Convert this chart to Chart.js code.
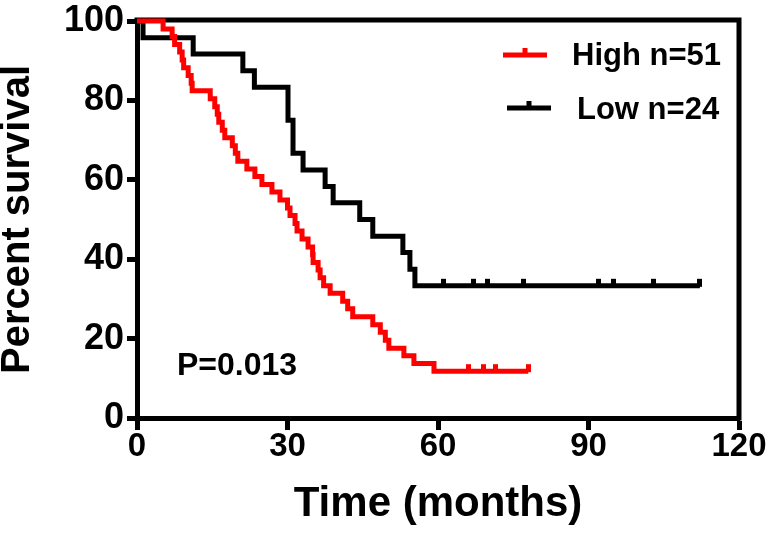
<!DOCTYPE html>
<html>
<head>
<meta charset="utf-8">
<script src="https://cdn.jsdelivr.net/npm/chart.js@4.4.0/dist/chart.umd.min.js"></script>
<style>
  body { margin: 0; background: #fff; }
  #wrap { width: 773px; height: 546px; }
</style>
</head>
<body>
<div id="wrap"><canvas id="kmChart" width="773" height="546"></canvas></div>
<script>
// survival data (months, percent)
const highTimes = [0, 5.2, 7.0, 7.5, 8.5, 9.0, 9.3, 10.2, 10.8, 11.0, 14.6, 15.5, 16.0, 16.3, 17.0, 17.5, 19.0, 19.6, 20.1,
  21.9, 23.5, 24.9, 26.9, 28.5, 30.0, 30.5, 31.5, 31.9, 32.9, 34.1, 35.0, 35.1, 36.1, 36.5, 37.2,
  38.5, 41.0, 42.0, 43.0, 47.0, 48.5, 49.5, 50.2, 53.2, 55.2, 59.2, 78.0];
const highSurv = [100, 98.0, 96.1, 94.1, 92.2, 90.2, 88.2, 86.3, 84.3, 82.4, 80.4, 78.4, 76.5, 74.5, 72.5, 70.6, 68.6, 66.7, 64.7,
  62.7, 60.8, 58.8, 56.9, 54.9, 52.9, 51.0, 49.0, 47.1, 45.1, 43.1, 41.2, 39.2, 37.3, 35.3, 33.3,
  31.4, 29.4, 27.5, 25.5, 23.5, 21.6, 19.6, 17.6, 15.7, 13.7, 11.8, 11.8];
const highCensorTimes = [66, 69, 71.5, 78];
const highCensorSurv = [11.8, 11.8, 11.8, 11.8];

const lowTimes = [0, 1.2, 11.2, 21.1, 23.4, 30.1, 31.1, 33.1, 37.5, 39.1, 44.4, 47.0, 53.0, 54.4, 55.4, 112.2];
const lowSurv = [100, 95.8, 91.7, 87.5, 83.3, 75.0, 66.7, 62.5, 58.3, 54.2, 50.0, 45.8, 41.7, 37.5, 33.3, 33.3];
const lowCensorTimes = [61, 67, 69.8, 77, 92, 95, 103, 112.2];
const lowCensorSurv = [33.3, 33.3, 33.3, 33.3, 33.3, 33.3, 33.3, 33.3];

const xTicks = [0, 30, 60, 90, 120];
const yTicks = [0, 20, 40, 60, 80, 100];
const seriesNames = ['High n=51', 'Low n=24'];
const pValueText = 'P=0.013';

const RED = '#ff0000';
const BLACK = '#000000';
const FONT = '"Liberation Sans", Arial, sans-serif';

function toPoints(xs, ys) {
  return xs.map((x, i) => ({ x: x, y: ys[i] }));
}

// censor mark: small tick sticking up from the curve only
function censorMark(color) {
  const c = document.createElement('canvas');
  c.width = 5;
  c.height = 20;
  const g = c.getContext('2d');
  g.fillStyle = color;
  g.fillRect(0, 3, 5, 8);
  return c;
}

// top + right frame lines, drawn under the curves
const framePlugin = {
  id: 'frame',
  beforeDatasetsDraw(chart) {
    const a = chart.chartArea, ctx = chart.ctx;
    ctx.save();
    ctx.strokeStyle = BLACK;
    ctx.lineWidth = 5;
    ctx.lineCap = 'square';
    ctx.beginPath();
    ctx.moveTo(a.left, a.top - 1);
    ctx.lineTo(a.right, a.top - 1);
    ctx.lineTo(a.right, a.bottom);
    ctx.stroke();
    ctx.restore();
  }
};

// legend in the top-right corner and the p value
const labelsPlugin = {
  id: 'labels',
  afterDatasetsDraw(chart) {
    const ctx = chart.ctx, a = chart.chartArea;
    ctx.save();
    ctx.font = 'bold 31px ' + FONT;
    ctx.textBaseline = 'alphabetic';
    ctx.textAlign = 'left';
    const rows = [
      { color: RED, name: seriesNames[0], lineY: 55, x0: 503, textX: 572, base: 65 },
      { color: BLACK, name: seriesNames[1], lineY: 108, x0: 507, textX: 577, base: 119 }
    ];
    rows.forEach(r => {
      ctx.strokeStyle = r.color;
      ctx.lineWidth = 5;
      ctx.lineCap = 'butt';
      ctx.beginPath();
      ctx.moveTo(r.x0, r.lineY);
      ctx.lineTo(r.x0 + 44, r.lineY);
      ctx.moveTo(r.x0 + 22, r.lineY);
      ctx.lineTo(r.x0 + 22, r.lineY - 7);
      ctx.stroke();
      ctx.fillStyle = BLACK;
      ctx.fillText(r.name, r.textX, r.base);
    });
    ctx.font = 'bold 32px ' + FONT;
    ctx.fillText(pValueText, a.left + 40, 375);
    ctx.restore();
  }
};

const ctx = document.getElementById('kmChart').getContext('2d');
const kmChart = new Chart(ctx, {
  type: 'line',
  data: {
    datasets: [
      {
        label: seriesNames[0],
        data: toPoints(highTimes, highSurv),
        borderColor: RED,
        borderWidth: 5,
        stepped: 'before',
        pointRadius: 0,
        fill: false,
        clip: false
      },
      {
        label: seriesNames[1],
        data: toPoints(lowTimes, lowSurv),
        borderColor: BLACK,
        borderWidth: 5,
        stepped: 'before',
        pointRadius: 0,
        fill: false,
        clip: false
      },
      {
        label: 'High censored',
        type: 'scatter',
        data: toPoints(highCensorTimes, highCensorSurv),
        showLine: false,
        pointStyle: censorMark(RED),
        pointRadius: 10,
        clip: false
      },
      {
        label: 'Low censored',
        type: 'scatter',
        data: toPoints(lowCensorTimes, lowCensorSurv),
        showLine: false,
        pointStyle: censorMark(BLACK),
        pointRadius: 10,
        clip: false
      }
    ]
  },
  options: {
    responsive: false,
    animation: false,
    devicePixelRatio: 1,
    layout: { padding: { top: 19, right: 34, left: 0, bottom: 0 } },
    plugins: {
      legend: { display: false },
      tooltip: { enabled: false }
    },
    scales: {
      x: {
        type: 'linear',
        min: 0,
        max: 120,
        afterFit: s => { s.height = 128; },
        afterBuildTicks: s => { s.ticks = xTicks.map(v => ({ value: v })); },
        grid: { display: true, drawOnChartArea: false, drawTicks: true, tickLength: 12, tickWidth: 5, tickColor: BLACK },
        border: { display: true, color: BLACK, width: 5 },
        ticks: {
          color: BLACK,
          padding: 0,
          maxRotation: 0,
          font: { family: FONT, size: 33, weight: 'bold', lineHeight: 1 }
        },
        title: {
          display: true,
          text: 'Time (months)',
          color: BLACK,
          padding: { top: 0, bottom: 16 },
          font: { family: FONT, size: 42, weight: 'bold', lineHeight: 1.2 }
        }
      },
      y: {
        type: 'linear',
        min: 0,
        max: 100,
        afterFit: s => { s.width = 137; },
        afterBuildTicks: s => { s.ticks = yTicks.map(v => ({ value: v })); },
        grid: { display: true, drawOnChartArea: false, drawTicks: true, tickLength: 10, tickWidth: 5, tickColor: BLACK },
        border: { display: true, color: BLACK, width: 5 },
        ticks: {
          color: BLACK,
          padding: 3,
          font: { family: FONT, size: 36, weight: 'bold', lineHeight: 1 }
        },
        title: {
          display: true,
          text: 'Percent survival',
          color: BLACK,
          padding: { top: 0, bottom: 0 },
          font: { family: FONT, size: 40, weight: 'bold', lineHeight: 0.9 }
        }
      }
    }
  },
  plugins: [framePlugin, labelsPlugin]
});
</script>
</body>
</html>
